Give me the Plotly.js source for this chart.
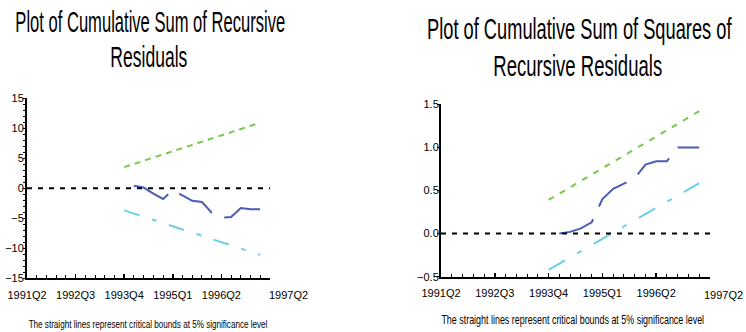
<!DOCTYPE html>
<html>
<head>
<meta charset="utf-8">
<script src="https://cdn.plot.ly/plotly-3.0.1.min.js"></script>
<style>
  html, body { margin: 0; padding: 0; background: #fff; }
  #chart { width: 746px; height: 332px; }
</style>
</head>
<body>
<div id="chart"></div>
<script>
// Quarter index 0 = 1991Q2; one step per quarter.
const tickPos    = [0, 5, 10, 15, 20, 25];
const tickLabels = ['1991Q2', '1992Q3', '1993Q4', '1995Q1', '1996Q2', ''];
const endLabel   = '1997Q2';

// Zero reference line spans the whole axis.
const zeroQ = [0, 25];
const zeroV = [0, 0];

// 5% critical bounds (straight lines between first and last quarter).
const boundQ      = [10, 24];
const cusumUpper  = [3.5, 10.9];
const cusumLower  = [-3.7, -11.1];
const sqUpper     = [0.39, 1.42];
const sqLower     = [-0.42, 0.585];

// Recursive residual statistics, 1994Q1 .. 1997Q2.
const residQ = [11, 12, 13, 14, 15, 16, 17, 18, 19, 20, 21, 22, 23, 24];
const cusum  = [0.4, 0.1, -0.9, -1.8, -0.3, -1.2, -2.1, -2.3, -4.1, -4.9, -4.8, -3.3, -3.5, -3.5];
const cusumSq = [0.0, 0.02, 0.06, 0.13, 0.40, 0.52, 0.58, 0.64, 0.80, 0.84, 0.84, 1.0, 1.0, 1.0];

const titleLeft  = ['Plot of Cumulative Sum of Recursive', 'Residuals'];
const titleRight = ['Plot of Cumulative Sum of Squares of', 'Recursive Residuals'];
const footnote   = 'The straight lines represent critical bounds at 5% significance level';

const FONT = '"Liberation Sans Narrow", "Liberation Sans", Arial, sans-serif';
const BLUE = '#4a5cb4', GREEN = '#78c84c', CYAN = '#6ccfe6';

function line(x, y, color, dash, xa, ya) {
  return { x, y, xaxis: xa, yaxis: ya, type: 'scatter', mode: 'lines',
           line: { color, width: 2, dash }, hoverinfo: 'skip', showlegend: false };
}

const traces = [
  line(boundQ, cusumUpper, GREEN, '6px,5px', 'x', 'y'),
  line(boundQ, cusumLower, CYAN, '16px,13px,5px,13px', 'x', 'y'),
  line(residQ, cusum, BLUE, '39.5px,13.5px', 'x', 'y'),
  line(zeroQ, zeroV, '#000', '5px,6px', 'x', 'y'),

  line(boundQ, sqUpper, GREEN, '6px,7px', 'x2', 'y2'),
  line(boundQ, sqLower, CYAN, '19px,14px,5px,14px', 'x2', 'y2'),
  line(residQ, cusumSq, BLUE, '38px,14px', 'x2', 'y2'),
  line(zeroQ, zeroV, '#000', '5px,6px', 'x2', 'y2')
];

const W = 746, H = 332;
const px = v => v / W;
const py = v => 1 - v / H;
const tickFont = { family: FONT, size: 11, color: '#000' };

function xAxis(d0, d1, anchor) {
  return {
    domain: [px(d0), px(d1)], range: [0, 25], anchor,
    showline: true, linecolor: '#000', linewidth: 2,
    showgrid: false, zeroline: false,
    tickmode: 'array', tickvals: tickPos, ticktext: tickLabels,
    ticks: 'inside', ticklen: 4, tickwidth: 1.5, tickcolor: '#000',
    minor: { tickmode: 'linear', tick0: 0, dtick: 1, ticks: 'inside', ticklen: 3, tickwidth: 1, tickcolor: '#000' },
    ticklabelstandoff: 5,
    tickfont: tickFont
  };
}
function xOverlay(d0, d1, over, anchor) {
  return {
    domain: [px(d0), px(d1)], range: [0, 25], overlaying: over, anchor,
    showline: false, showgrid: false, zeroline: false, showticklabels: false,
    tickmode: 'array', tickvals: tickPos,
    ticks: 'outside', ticklen: 3, tickwidth: 1.5, tickcolor: '#000'
  };
}
function yAxis(d0, d1, anchor, range, vals, fmt, minorStep, standoff) {
  const ax = {
    domain: [py(d0), py(d1)], range, anchor,
    showline: true, linecolor: '#000', linewidth: 2,
    showgrid: false, zeroline: false,
    tickmode: 'array', tickvals: vals, tickformat: fmt,
    ticks: 'outside', ticklen: 2, tickwidth: 1, tickcolor: '#000',
    ticklabelstandoff: standoff,
    tickfont: tickFont
  };
  if (minorStep) {
    ax.minor = { tickmode: 'linear', tick0: 0, dtick: minorStep, ticks: 'outside', ticklen: 2, tickwidth: 1, tickcolor: '#000' };
  }
  return ax;
}

function textAt(text, x, y, size, xanchor) {
  return { text, xref: 'paper', yref: 'paper', x: px(x), y: py(y),
           xanchor: xanchor || 'center', yanchor: 'middle', showarrow: false,
           font: { family: FONT, size, color: '#000' } };
}

const layout = {
  width: W, height: H,
  margin: { l: 0, r: 0, t: 0, b: 0 },
  paper_bgcolor: '#fff', plot_bgcolor: '#fff',
  showlegend: false,
  font: { family: FONT, color: '#000' },
  xaxis: xAxis(27, 270, 'y'),
  xaxis3: xOverlay(27, 270, 'x', 'y'),
  yaxis: yAxis(278.3, 98, 'x', [-15, 15], [-15, -10, -5, 0, 5, 10, 15], '', 1, -3),
  xaxis2: xAxis(441, 710, 'y2'),
  xaxis4: xOverlay(441, 710, 'x2', 'y2'),
  yaxis2: yAxis(276.7, 104.3, 'x2', [-0.5, 1.5], [-0.5, 0, 0.5, 1, 1.5], '.1f', 0, -4),
  annotations: [
    textAt(titleLeft[0], 150, 21.5, 30),
    textAt(titleLeft[1], 148.5, 56.6, 30),
    textAt(titleRight[0], 579, 29, 30),
    textAt(titleRight[1], 577.5, 65, 30),
    textAt(footnote, 147.5, 323.5, 11),
    textAt(footnote, 573, 319.5, 12),
    textAt(endLabel, 288, 295, 11),
    textAt(endLabel, 745, 295, 11, 'right')
  ]
};

// Horizontally condense an annotation's text to a given width, keeping its centre.
function condense(index, width) {
  const t = document.querySelector('#chart .annotation[data-index="' + index + '"] text.annotation-text');
  if (!t) return;
  const b = t.getBBox();
  if (!b.width) return;
  const cx = b.x + b.width / 2;
  t.setAttribute('transform',
    'translate(' + cx + ',0) scale(' + (width / b.width) + ',1) translate(' + (-cx) + ',0)');
}

Plotly.newPlot('chart', traces, layout, { staticPlot: true, displayModeBar: false }).then(() => {
  condense(0, 270);
  condense(1, 77);
  condense(2, 305);
  condense(3, 169);
  condense(4, 239);
  condense(5, 263);
});
</script>
</body>
</html>
